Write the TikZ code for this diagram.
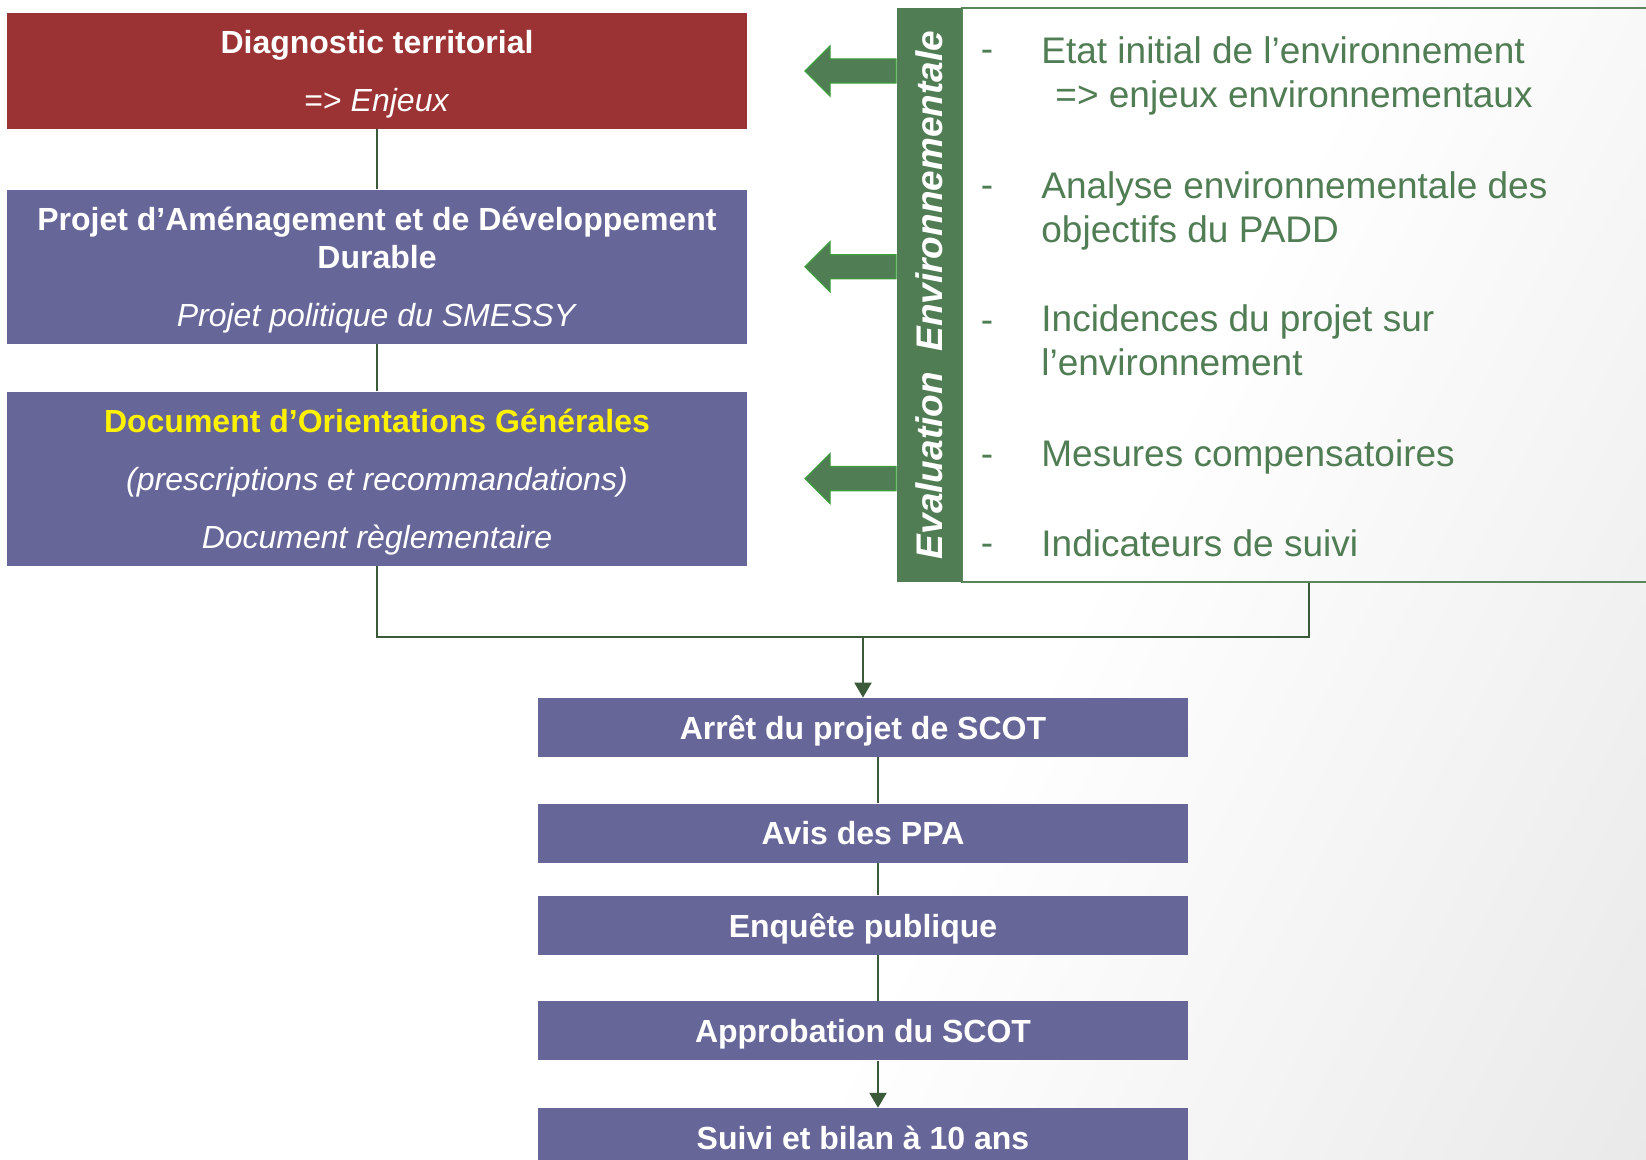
\documentclass[tikz,border=0pt]{standalone}
\usepackage{fontspec}
\setmainfont{Liberation Sans}
\usetikzlibrary{positioning, shapes.arrows, arrows.meta}

\definecolor{diagred}{RGB}{155,50,51}
\definecolor{padblue}{RGB}{102,102,153}
\definecolor{evalgreen}{RGB}{80,125,84}
\definecolor{arrowrim}{RGB}{60,160,60}
\definecolor{linkgreen}{RGB}{58,90,58}
\definecolor{framegreen}{RGB}{90,135,90}

\pgfdeclarehorizontalshading{bgshade}{100bp}{color(0bp)=(white); color(58bp)=(white); color(100bp)=(black!14)}

\begin{document}
\begin{tikzpicture}[x=0.5pt, y=-0.5pt,
    stepbox/.style={rectangle, fill=padblue, text=white, align=center, inner sep=0pt, text depth=0pt, font=\fontsize{16}{19}\selectfont},
    bigbox/.style={stepbox, minimum width=370pt},
    smallbox/.style={stepbox, minimum width=325pt, minimum height=29.5pt, font=\fontsize{16}{19}\selectfont\bfseries},
    envitem/.style={anchor=west, inner sep=0pt, align=left, text depth=0pt, text=evalgreen, font=\fontsize{18.5}{22}\selectfont},
    envdash/.style={anchor=base, inner sep=0pt, text=evalgreen, font=\fontsize{18.5}{22}\selectfont},
    envarrow/.style={single arrow, rotate=180, fill=evalgreen, draw=arrowrim, line width=0.6pt, minimum height=45.5pt, single arrow head extend=6.5pt, inner sep=5.75pt, anchor=tail},
    link/.style={draw=linkgreen, line width=1.1pt},
    linkarrow/.style={link, -{Triangle[width=8.5pt, length=7.5pt]}}]

    \shade[shading=bgshade, shading angle=-27] (0,0) rectangle (1646,1160);
    \useasboundingbox (0,0) rectangle (1646,1160);

    % left column
    \node[bigbox, fill=diagred, minimum height=58pt] (diag) at (377,71) {\textbf{Diagnostic territorial}\\[10pt]=> \textit{Enjeux}};
    \node[bigbox, minimum height=77pt, below=30pt of diag] (padd) {\textbf{Projet d’Aménagement et de Développement}\\\textbf{Durable}\\[10pt]\textit{Projet politique du SMESSY}};
    \node[bigbox, minimum height=87pt, below=23.5pt of padd] (dog) {\textcolor{yellow}{\textbf{Document d’Orientations Générales}}\\[10pt]\textit{(prescriptions et recommandations)}\\[10pt]\textit{Document règlementaire}};

    \draw[link] (diag) -- (padd);
    \draw[link] (padd) -- (dog);

    % evaluation environnementale
    \node[draw=framegreen, line width=1pt, minimum width=347pt, minimum height=287pt, inner sep=0pt] (envbox) at (1309,295) {};
    \node[fill=evalgreen, minimum width=32.5pt, minimum height=287pt, inner sep=0pt] (evalbar) at (929.5,295) {};
    \node[rotate=90, text=white, font=\fontsize{18.5}{22}\selectfont\bfseries\itshape] (evaltext) at (evalbar.center) {Evaluation\ \ Environnementale};

    \node[envarrow] (arrowA) at (evalbar.west |- diag) {};
    \node[envarrow] (arrowB) at (evalbar.west |- padd) {};
    \node[envarrow] (arrowC) at (evalbar.west |- dog) {};

    \node[envdash] (dashA) at (987,62) {-};
    \node[envdash] (dashB) at (987,198) {-};
    \node[envdash] (dashC) at (987,333) {-};
    \node[envdash] (dashD) at (987,467) {-};
    \node[envdash] (dashE) at (987,556) {-};

    \node[envitem] (itemA) at (1041,72) {Etat initial de l’environnement\\\hspace*{7pt}=> enjeux environnementaux};
    \node[envitem] (itemB) at (1041,207) {Analyse environnementale des\\objectifs du PADD};
    \node[envitem] (itemC) at (1041,340.5) {Incidences du projet sur\\l’environnement};
    \node[envitem] (itemD) at (1041,453) {Mesures compensatoires};
    \node[envitem] (itemE) at (1041,543) {Indicateurs de suivi};

    % procedure
    \node[smallbox] (arret) at (863,727.5) {Arrêt du projet de SCOT};
    \node[smallbox, below=23pt of arret] (avis) {Avis des PPA};
    \node[smallbox, below=16pt of avis] (enquete) {Enquête publique};
    \node[smallbox, below=23pt of enquete] (approb) {Approbation du SCOT};
    \node[smallbox, below=23.5pt of approb] (suivi) {Suivi et bilan à 10 ans};

    \coordinate (merge) at (863,637);
    \draw[link] (dog.south) |- (merge) -| (envbox.south);
    \draw[linkarrow] (merge) -- (arret);

    \draw[link] ([xshift=7.5pt]arret.south) -- ([xshift=7.5pt]avis.north);
    \draw[link] ([xshift=7.5pt]avis.south) -- ([xshift=7.5pt]enquete.north);
    \draw[link] ([xshift=7.5pt]enquete.south) -- ([xshift=7.5pt]approb.north);
    \draw[linkarrow] ([xshift=7.5pt]approb.south) -- ([xshift=7.5pt]suivi.north);

\end{tikzpicture}
\end{document}
